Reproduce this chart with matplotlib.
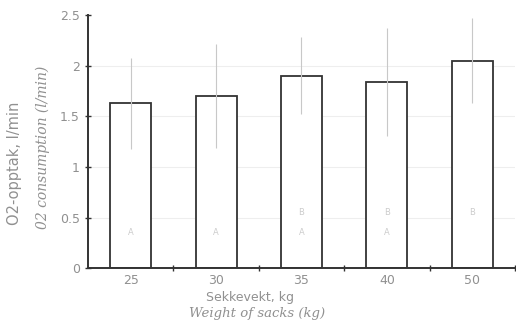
import numpy as np
import matplotlib.pyplot as plt

# sack weights (kg) and mean O2 consumption (l/min)
weights = ['25', '30', '35', '40', '50']
o2_mean = [1.63, 1.70, 1.90, 1.84, 2.05]
o2_sd = [0.45, 0.51, 0.38, 0.53, 0.42]
groups = [['A'], ['A'], ['B', 'A'], ['B', 'A'], ['B']]
yticks = [0, 0.5, 1, 1.5, 2, 2.5]

grey = '#909090'
x = np.arange(len(weights))

fig = plt.figure(figsize=(5.16, 3.27), dpi=100)
ax = fig.add_axes([0.1705, 0.180, 0.8275, 0.774])

# faint grid lines like the scanned original
for yv in [0.5, 1, 1.5, 2]:
    ax.axhline(yv, color='#eeeeee', lw=0.8, zorder=0)

ax.bar(x, o2_mean, width=0.48, color='white', edgecolor='#333333',
       linewidth=1.3, zorder=2)
ax.errorbar(x, o2_mean, yerr=o2_sd, fmt='none', ecolor='#c8c8c8',
            elinewidth=0.8, capsize=0, zorder=3)

# significance letters inside bars
for i, letters in enumerate(groups):
    if len(letters) == 1:
        ypos = [0.35] if letters[0] == 'A' else [0.55]
    else:
        ypos = [0.55, 0.35]
    for lt, yp in zip(letters, ypos):
        ax.text(i, yp, lt, ha='center', va='center', fontsize=6,
                color='#cccccc', zorder=4)

ax.set_xlim(-0.5, 4.5)
ax.set_ylim(0, 2.5)
ax.set_yticks(yticks)
ax.set_yticklabels(['0', '0.5', '1', '1.5', '2', '2.5'])
ax.set_xticks(x + 0.5)
ax.set_xticklabels([])
for i, w in enumerate(weights):
    ax.text(i, -0.06, w, ha='center', va='top', fontsize=9, color=grey,
            transform=ax.transData)

ax.tick_params(axis='both', direction='inout', length=5, width=1,
               colors='#333333', labelcolor=grey, labelsize=9)
for side in ['top', 'right']:
    ax.spines[side].set_visible(False)
ax.spines['left'].set_linewidth(1.4)
ax.spines['bottom'].set_linewidth(1.4)
ax.spines['left'].set_color('#333333')
ax.spines['bottom'].set_color('#333333')

fig.text(15 / 516, 1 - 163 / 327, 'O2-opptak, l/min', rotation=90,
         ha='center', va='center', fontsize=10.5, color=grey)
fig.text(43 / 516, 1 - 147 / 327, '02 consumption (l/min)', rotation=90,
         ha='center', va='center', fontsize=10, color=grey,
         family='DejaVu Serif', style='italic')
fig.text(250 / 516, 1 - 297 / 327, 'Sekkevekt, kg', ha='center',
         va='center', fontsize=9, color=grey)
fig.text(257 / 516, 1 - 314 / 327, 'Weight of sacks (kg)', ha='center',
         va='center', fontsize=9.5, color=grey, family='DejaVu Serif',
         style='italic')

fig.savefig('out.png', dpi=100)
